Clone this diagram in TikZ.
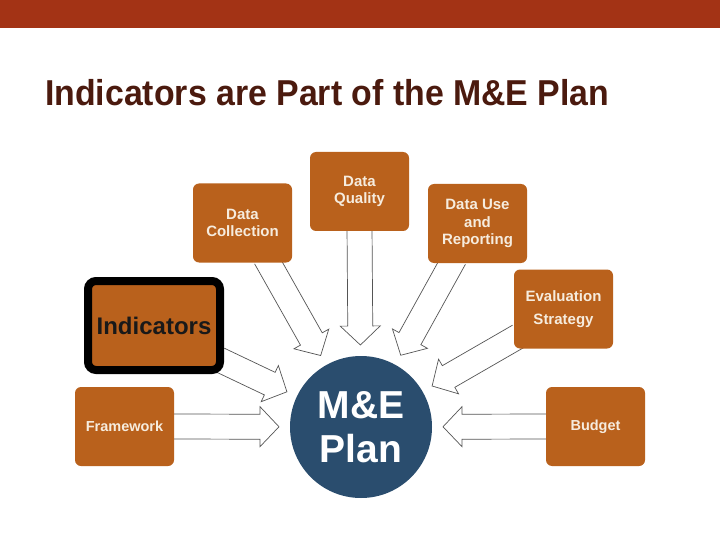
\documentclass[tikz,border=0pt]{standalone}
\usepackage{fontspec}
\setmainfont{Liberation Sans}
\usepackage{xcolor}
\usepackage{tikz}
\usetikzlibrary{calc}

\definecolor{barred}{RGB}{163,51,21}
\definecolor{titlebrown}{RGB}{75,26,14}
\definecolor{boxorange}{RGB}{185,97,28}
\definecolor{boxtext}{RGB}{246,236,222}
\definecolor{planblue}{RGB}{42,77,110}
\definecolor{arrowline}{RGB}{85,85,85}

\pgfdeclarelayer{back}
\pgfdeclarelayer{arrows}
\pgfsetlayers{back,arrows,main}

% block arrow from a named coordinate towards the plan circle
\newcommand{\feed}[1]{%
  \draw[feedarrow] let \p1=(#1), \p2=($(plan.center)!82pt!(#1)$),
      \n1={atan2(\y2-\y1,\x2-\x1)}, \n2={veclen(\x2-\x1,\y2-\y1)} in
    [shift={(\p1)}, rotate=\n1]
    (0pt,12.5pt) -- ({\n2-19pt},12.5pt) -- ({\n2-19pt},20pt) -- (\n2,0pt)
    -- ({\n2-19pt},-20pt) -- ({\n2-19pt},-12.5pt) -- (0pt,-12.5pt);%
}

\begin{document}
\begin{tikzpicture}[
    x=1pt, y=-1pt,
    box/.style={rectangle, rounded corners=6pt, fill=boxorange, text=boxtext, align=center,
      minimum width=99pt, minimum height=79pt, inner sep=2pt,
      font=\bfseries\fontsize{15}{17.5}\selectfont},
    indbox/.style={rectangle, rounded corners=8pt, fill=boxorange, draw=black, line width=8pt,
      minimum width=132pt, minimum height=89pt, text=black!90,
      font=\bfseries\fontsize{24}{28}\selectfont},
    plannode/.style={circle, fill=planblue, minimum size=142pt, inner sep=0pt, text=white,
      align=center, font=\bfseries\fontsize{39}{44}\selectfont},
    feedarrow/.style={draw=arrowline, fill=white, line width=0.7pt, line join=miter}
]

  % Page and header
  \begin{pgfonlayer}{back}
    \fill[white] (0,0) rectangle (720,540);
  \end{pgfonlayer}
  \fill[barred] (0,0) rectangle (720,28);
  \node[anchor=base west, inner sep=0pt, text=titlebrown, font=\bfseries\fontsize{36}{40}\selectfont]
    (heading) at (45,106) {\scalebox{0.94}[1]{Indicators are Part of the M\&E Plan}};

  % Centre
  \node[plannode] (plan) at (361,427) {M\&E\\Plan};

  % Surrounding parts of the plan
  \node[box] (dc) at (242.5,223) {Data\\Collection};
  \node[box] (dq) at (359.5,191.5) {Data\\Quality};
  \node[box] (du) at (477.5,223.5) {Data Use\\and\\Reporting};
  \node[box] (ev) at (563.5,309) {Evaluation\\[6pt]Strategy};
  \node[indbox] (ind) at (154,325.5) {Indicators};
  \node[box, font=\bfseries\fontsize{14.5}{17}\selectfont] (fw) at (124.5,426.5) {Framework};
  \node[box, font=\bfseries\fontsize{14.5}{17}\selectfont] (bu) at (595.5,426.5) {Budget};

  % Arrow starts
  \coordinate (dc-out) at ([xshift=23pt,yshift=5pt]dc.south);
  \coordinate (dq-out) at ([yshift=5pt]dq.south);
  \coordinate (du-out) at ([xshift=-23pt,yshift=5pt]du.south);
  \coordinate (ev-out) at ([xshift=5pt,yshift=-27pt]ev.west);
  \coordinate (ind-out) at ([xshift=-5pt,yshift=-34pt]ind.east);
  \coordinate (fw-out) at (fw.east);
  \coordinate (bu-out) at (bu.west);

  % Block arrows into the plan
  \begin{pgfonlayer}{arrows}
    \foreach \src in {dc-out, dq-out, du-out, ev-out, ind-out, fw-out, bu-out}
      {\feed{\src}}
  \end{pgfonlayer}

\end{tikzpicture}
\end{document}
